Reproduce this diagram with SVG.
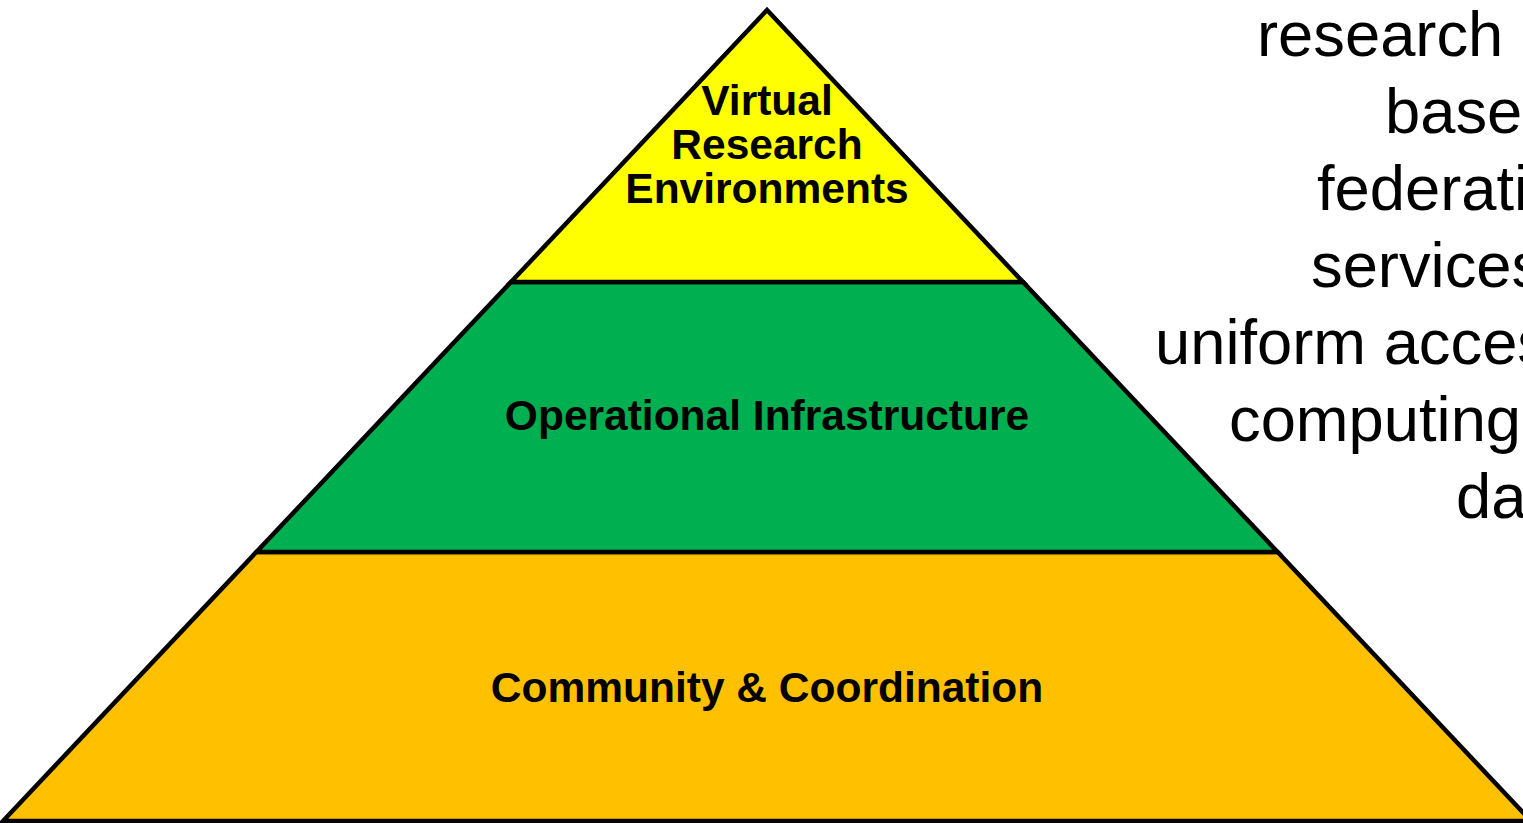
<svg xmlns="http://www.w3.org/2000/svg" width="1523" height="823" viewBox="0 0 1523 823">
<style>
.layer{stroke:#000;stroke-width:4.5;stroke-linejoin:miter}
.lbl{font-family:"Liberation Sans",Arial,sans-serif;font-weight:bold;font-size:42.5px;fill:#000;text-anchor:middle}
.side{font-family:"Liberation Sans",Arial,sans-serif;font-size:63.3px;fill:#000}
</style>
<rect width="1523" height="823" fill="#fff"/>
<g id="community">
<polygon class="layer" fill="#FFC000" points="256.4,552 1277.6,552 1531,821 3,821"/>
<text class="lbl" x="767" y="702">Community &amp; Coordination</text>
</g>
<g id="operational">
<polygon class="layer" fill="#00B050" points="511,282 1023,282 1277.6,552 256.4,552"/>
<text class="lbl" x="767" y="430">Operational Infrastructure</text>
</g>
<g id="vre">
<polygon class="layer" fill="#FFFF00" points="767,10 1023,282 511,282"/>
<text class="lbl" x="767" y="115">Virtual</text>
<text class="lbl" x="767" y="159">Research</text>
<text class="lbl" x="767" y="203">Environments</text>
</g>
<g id="description">
<text class="side" x="1257" y="56">research</text>
<text class="side" x="1385" y="133">base</text>
<text class="side" x="1317" y="210">federati</text>
<text class="side" x="1311" y="287">services</text>
<text class="side" x="1155" y="364">uniform acces</text>
<text class="side" x="1229" y="441">computing</text>
<text class="side" x="1456" y="518">da</text>
</g>
</svg>
